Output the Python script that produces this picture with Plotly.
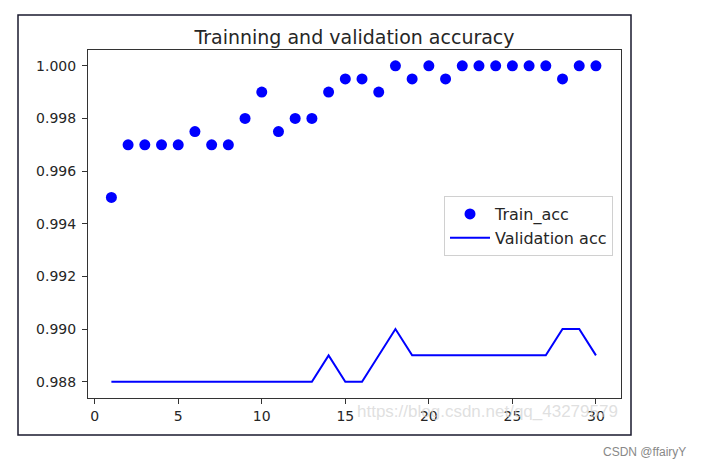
import plotly.graph_objects as go

epochs = list(range(1, 31))
train_acc = [0.995, 0.997, 0.997, 0.997, 0.997, 0.9975, 0.997, 0.997, 0.998, 0.999,
             0.9975, 0.998, 0.998, 0.999, 0.9995, 0.9995, 0.999, 1.0, 0.9995, 1.0,
             0.9995, 1.0, 1.0, 1.0, 1.0, 1.0, 1.0, 0.9995, 1.0, 1.0]
val_acc = [0.988, 0.988, 0.988, 0.988, 0.988, 0.988, 0.988, 0.988, 0.988, 0.988,
           0.988, 0.988, 0.988, 0.989, 0.988, 0.988, 0.989, 0.990, 0.989, 0.989,
           0.989, 0.989, 0.989, 0.989, 0.989, 0.989, 0.989, 0.990, 0.990, 0.989]
x_ticks = [0, 5, 10, 15, 20, 25, 30]
y_ticks = [0.988, 0.990, 0.992, 0.994, 0.996, 0.998, 1.000]
y_tick_labels = ["0.988", "0.990", "0.992", "0.994", "0.996", "0.998", "1.000"]

W, H = 704, 468
L, R, T, B = 88, 621, 50, 398
pw, ph = R - L, B - T

def px(x):
    return (x - L) / pw

def py(y):
    return (B - y) / ph

fig = go.Figure()
fig.add_trace(go.Scatter(x=epochs, y=train_acc, mode="markers", name="Train_acc",
                         marker=dict(color="#0000ff", size=11)))
fig.add_trace(go.Scatter(x=epochs, y=val_acc, mode="lines", name="Validation acc",
                         line=dict(color="#0000ff", width=2)))

font = "DejaVu Sans"
fig.update_layout(
    width=W, height=H,
    margin=dict(l=L, r=W - R, t=T, b=H - B),
    paper_bgcolor="white", plot_bgcolor="white",
    font=dict(family=font, size=14, color="#262626"),
    title=dict(text="Trainning and validation accuracy", x=(L + R) / 2 / W, xanchor="center",
               y=1 - 37 / H, yanchor="middle", font=dict(size=19, color="#262626")),
    xaxis=dict(range=[-0.4, 31.5], tickvals=x_ticks, ticks="outside", ticklen=5,
               tickcolor="#333", showgrid=False, zeroline=False, showline=True,
               linecolor="#333", linewidth=1, mirror=True, tickfont=dict(size=14)),
    yaxis=dict(range=[0.98738, 1.0006], tickvals=y_ticks, ticktext=y_tick_labels,
               ticks="outside", ticklen=5, tickcolor="#333", showgrid=False,
               zeroline=False, showline=True, linecolor="#333", linewidth=1, mirror=True,
               tickfont=dict(size=14), ticklabelstandoff=3),
    legend=dict(x=px(613), y=py(196), xanchor="right", yanchor="top",
                bgcolor="rgba(255,255,255,0.9)", bordercolor="#d0d0d0", borderwidth=1,
                font=dict(size=16, color="#262626"), itemwidth=40, tracegroupgap=0),
    showlegend=True,
)

# outer frame around the picture
fig.add_shape(type="rect", xref="paper", yref="paper",
              x0=px(18), x1=px(631), y0=py(435), y1=py(15),
              line=dict(color="#1a1a2e", width=1.5), fillcolor="rgba(0,0,0,0)", layer="below")

# watermark
fig.add_annotation(text="https://blog.csdn.net/qq_43279579", xref="paper", yref="paper",
                   x=px(620), y=py(411), xanchor="right", yanchor="middle", showarrow=False,
                   font=dict(family="Liberation Sans", size=17, color="rgba(210,210,210,0.7)"))
fig.add_annotation(text="CSDN @ffairyY", xref="paper", yref="paper",
                   x=px(688), y=py(452), xanchor="right", yanchor="middle", showarrow=False,
                   font=dict(family="Liberation Sans", size=12, color="#888888"))

fig.write_html("out.html")
